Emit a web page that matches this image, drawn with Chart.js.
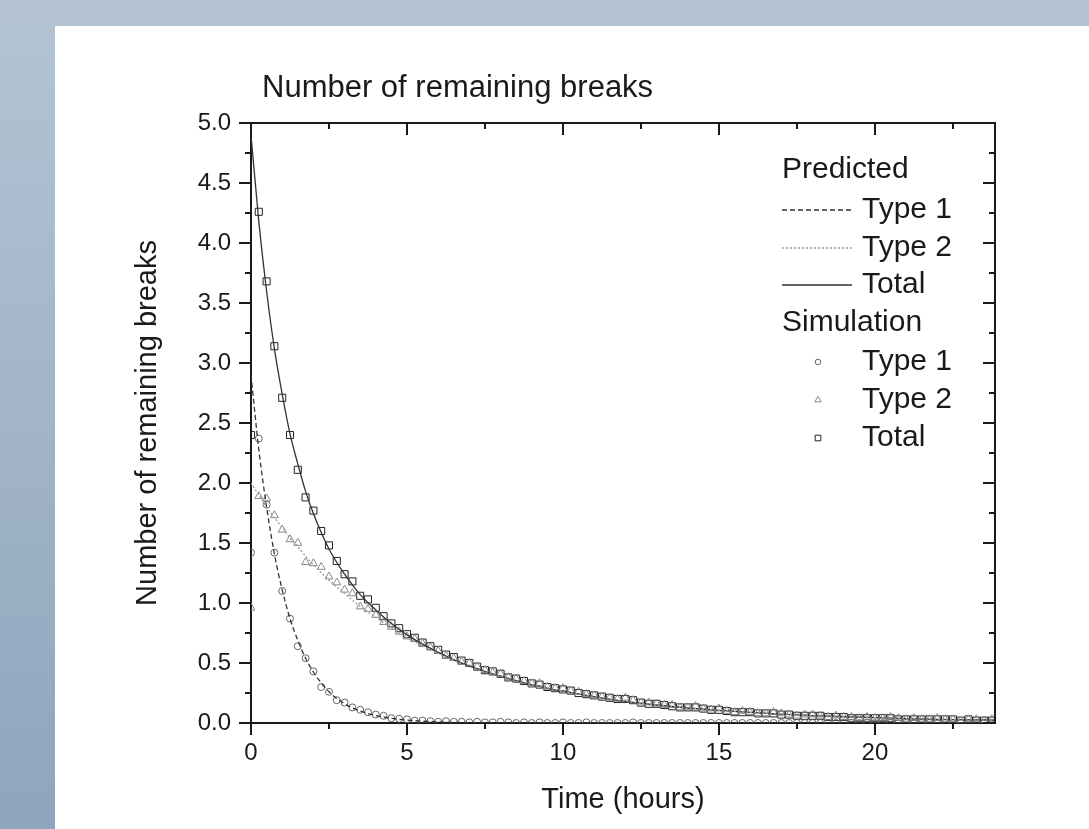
<!DOCTYPE html>
<html>
<head>
<meta charset="utf-8">
<script src="https://cdn.jsdelivr.net/npm/chart.js@4.4.1/dist/chart.umd.min.js"></script>
<style>
  html, body { margin: 0; padding: 0; }
  body {
    width: 1089px; height: 829px; overflow: hidden; position: relative;
    background: linear-gradient(to bottom, #b4c4d4 0%, #8fa5bd 100%);
  }
  #panel { position: absolute; left: 55px; top: 26px; width: 1034px; height: 803px; background: #fff; }
  #chart { display: block; }
</style>
</head>
<body>
<div id="panel"><canvas id="chart" width="1034" height="803"></canvas></div>
<script>
// predicted curves (hours -> remaining breaks)
var predTime = [0,0.25,0.5,0.75,1,1.25,1.5,1.75,2,2.5,3,3.5,4,4.5,5,6,7,8,9,10,11,12,13,14,15,16,17,18,19,20,21,22,23,24];
var predType1 = [2.90,2.28,1.80,1.41,1.11,0.87,0.69,0.54,0.425,0.26,0.16,0.10,0.062,0.039,0.024,0.009,0.0035,0.0013,0.0005,0.0002,0.0001,0,0,0,0,0,0,0,0,0,0,0,0,0];
var predType2 = [2.00,1.90,1.80,1.71,1.63,1.54,1.47,1.39,1.32,1.19,1.08,0.97,0.88,0.79,0.71,0.58,0.47,0.39,0.32,0.265,0.22,0.18,0.15,0.125,0.105,0.088,0.074,0.062,0.052,0.044,0.037,0.031,0.026,0.022];
var predTotal = [4.90,4.18,3.60,3.12,2.74,2.41,2.16,1.93,1.745,1.45,1.24,1.07,0.942,0.829,0.734,0.589,0.4735,0.391,0.3205,0.265,0.22,0.18,0.15,0.125,0.105,0.088,0.074,0.062,0.052,0.044,0.037,0.031,0.026,0.022];

// simulation samples
var simTime = [0,0.25,0.5,0.75,1,1.25,1.5,1.75,2,2.25,2.5,2.75,3,3.25,3.5,3.75,4,4.25,4.5,4.75,5,
  5.25,5.5,5.75,6,6.25,6.5,6.75,7,7.25,7.5,7.75,8,8.25,8.5,8.75,9,9.25,9.5,9.75,10,
  10.25,10.5,10.75,11,11.25,11.5,11.75,12,12.25,12.5,12.75,13,13.25,13.5,13.75,14,14.25,14.5,14.75,15,
  15.25,15.5,15.75,16,16.25,16.5,16.75,17,17.25,17.5,17.75,18,18.25,18.5,18.75,19,19.25,19.5,19.75,20,
  20.25,20.5,20.75,21,21.25,21.5,21.75,22,22.25,22.5,22.75,23,23.25,23.5,23.75];
var simType1 = [1.42,2.37,1.82,1.42,1.10,0.87,0.64,0.54,0.43,0.30,0.26,0.19,0.17,0.13,0.11,0.09,0.07,0.06,0.04,0.035,0.03,
  0.02,0.02,0.015,0.01,0.015,0.01,0.01,0.005,0.01,0.005,0.005,0.01,0.005,0,0.005,0,0.005,0,0,0.005,
  0,0,0.005,0,0,0,0,0,0.005,0,0,0,0,0,0,0,0,0,0,0,
  0,0,0,0,0,0,0,0,0,0,0,0,0,0,0,0,0,0,0,0,
  0,0,0,0,0,0,0,0,0,0,0,0,0,0,0];
var simType2 = [0.96,1.89,1.87,1.73,1.61,1.53,1.50,1.34,1.33,1.30,1.22,1.17,1.11,1.08,0.97,0.95,0.90,0.84,0.80,0.76,0.72,
  0.70,0.66,0.63,0.60,0.56,0.54,0.51,0.50,0.47,0.44,0.42,0.41,0.38,0.37,0.35,0.33,0.33,0.30,0.29,0.29,
  0.27,0.26,0.24,0.23,0.22,0.21,0.20,0.21,0.19,0.17,0.17,0.16,0.15,0.15,0.13,0.13,0.14,0.12,0.11,0.12,
  0.10,0.09,0.10,0.09,0.08,0.08,0.09,0.08,0.07,0.06,0.07,0.07,0.06,0.05,0.06,0.05,0.05,0.04,0.05,0.04,
  0.04,0.05,0.04,0.03,0.04,0.03,0.03,0.04,0.03,0.03,0.02,0.03,0.03,0.02,0.03];
var simTotal = [2.40,4.26,3.68,3.14,2.71,2.40,2.11,1.88,1.77,1.60,1.48,1.35,1.24,1.18,1.06,1.03,0.96,0.89,0.83,0.79,0.74,
  0.71,0.67,0.64,0.61,0.57,0.55,0.52,0.50,0.47,0.44,0.43,0.41,0.38,0.37,0.35,0.33,0.32,0.30,0.29,0.28,
  0.27,0.25,0.24,0.23,0.22,0.21,0.20,0.20,0.19,0.17,0.16,0.16,0.15,0.14,0.13,0.13,0.13,0.12,0.11,0.11,
  0.10,0.09,0.09,0.09,0.08,0.08,0.08,0.07,0.07,0.06,0.06,0.06,0.06,0.05,0.05,0.05,0.04,0.04,0.04,0.04,
  0.04,0.04,0.03,0.03,0.03,0.03,0.03,0.03,0.03,0.03,0.02,0.03,0.02,0.02,0.02];

// axis ticks
var xTickValues = [0,5,10,15,20];
var xMinorTicks = [2.5,7.5,12.5,17.5,22.5];
var yTickValues = [0,0.5,1,1.5,2,2.5,3,3.5,4,4.5,5];
var yMinorTicks = [0.25,0.75,1.25,1.75,2.25,2.75,3.25,3.75,4.25,4.75];

var chartTitle = 'Number of remaining breaks';
var legendHeads = ['Predicted', 'Simulation'];
var legendNames = ['Type 1', 'Type 2', 'Total'];

var FONT = '"Liberation Sans", Arial, sans-serif';
var INK = '#1a1a1a';
Chart.defaults.font.family = FONT;
Chart.defaults.color = INK;

function pairs(xs, ys) {
  return xs.map(function (x, i) { return { x: x, y: ys[i] }; });
}

function lineSet(label, ys, color, dash) {
  return {
    label: label, data: pairs(predTime, ys), borderColor: color, borderWidth: 1.3,
    borderDash: dash, pointRadius: 0, cubicInterpolationMode: 'monotone', fill: false
  };
}

function markSet(label, ys, style, r, color) {
  return {
    label: label, data: pairs(simTime, ys), showLine: false, pointStyle: style,
    pointRadius: r, pointBorderWidth: 1, pointBorderColor: color, borderColor: color,
    pointBackgroundColor: 'rgba(0,0,0,0)', backgroundColor: 'rgba(0,0,0,0)'
  };
}

var lineStyles = [
  { color: '#333', dash: [5, 3] },
  { color: '#999', dash: [2, 2] },
  { color: '#333', dash: [] }
];
var markStyles = [
  { style: 'circle', r: 3.5, color: '#666' },
  { style: 'triangle', r: 4.6, color: '#888' },
  { style: 'rect', r: 5, color: '#222' }
];

// frame, extra ticks, title and legend
var framePlugin = {
  id: 'frame',
  afterDraw: function (chart) {
    var ctx = chart.ctx, a = chart.chartArea;
    var xs = chart.scales.x, ys = chart.scales.y;
    ctx.save();
    ctx.strokeStyle = INK;
    ctx.lineWidth = 2;
    ctx.beginPath();
    ctx.moveTo(a.left - 1, a.top);
    ctx.lineTo(a.right, a.top);
    ctx.lineTo(a.right, a.bottom + 1);
    ctx.stroke();

    ctx.beginPath();
    xTickValues.forEach(function (v) {
      var px = Math.round(xs.getPixelForValue(v));
      ctx.moveTo(px, a.top); ctx.lineTo(px, a.top + 12);
    });
    xMinorTicks.forEach(function (v) {
      var px = Math.round(xs.getPixelForValue(v));
      ctx.moveTo(px, a.top); ctx.lineTo(px, a.top + 6);
      ctx.moveTo(px, a.bottom); ctx.lineTo(px, a.bottom + 6);
    });
    yTickValues.forEach(function (v) {
      var py = Math.round(ys.getPixelForValue(v));
      ctx.moveTo(a.right, py); ctx.lineTo(a.right - 12, py);
    });
    yMinorTicks.forEach(function (v) {
      var py = Math.round(ys.getPixelForValue(v));
      ctx.moveTo(a.right, py); ctx.lineTo(a.right - 6, py);
      ctx.moveTo(a.left, py); ctx.lineTo(a.left - 6, py);
    });
    ctx.stroke();

    // title
    ctx.fillStyle = INK;
    ctx.font = '31px ' + FONT;
    ctx.textBaseline = 'middle';
    ctx.textAlign = 'left';
    ctx.fillText(chartTitle, a.left + 11, 62);

    // legend
    var lx = a.right - 213, rows = [144, 184, 222, 259, 297, 336, 374, 412];
    ctx.font = '30px ' + FONT;
    ctx.fillText(legendHeads[0], lx, rows[0]);
    ctx.fillText(legendHeads[1], lx, rows[4]);
    legendNames.forEach(function (name, i) {
      var ry = rows[1 + i];
      ctx.strokeStyle = lineStyles[i].color;
      ctx.lineWidth = 1.3;
      ctx.setLineDash(lineStyles[i].dash);
      ctx.beginPath();
      ctx.moveTo(lx, ry); ctx.lineTo(lx + 70, ry);
      ctx.stroke();
      ctx.setLineDash([]);
      ctx.fillStyle = INK;
      ctx.fillText(name, lx + 80, ry);

      var my = rows[5 + i], ms = markStyles[i];
      ctx.save();
      ctx.strokeStyle = ms.color;
      ctx.fillStyle = 'rgba(0,0,0,0)';
      ctx.lineWidth = 1;
      Chart.helpers.drawPoint(ctx, { pointStyle: ms.style, radius: ms.r * 0.8, rotation: 0, borderWidth: 1 }, lx + 36, my);
      ctx.restore();
      ctx.fillText(name, lx + 80, my);
    });
    ctx.restore();
  }
};

var datasets = [
  lineSet('Predicted Type 1', predType1, lineStyles[0].color, lineStyles[0].dash),
  lineSet('Predicted Type 2', predType2, lineStyles[1].color, lineStyles[1].dash),
  lineSet('Predicted Total', predTotal, lineStyles[2].color, lineStyles[2].dash),
  markSet('Simulation Type 1', simType1, markStyles[0].style, markStyles[0].r, markStyles[0].color),
  markSet('Simulation Type 2', simType2, markStyles[1].style, markStyles[1].r, markStyles[1].color),
  markSet('Simulation Total', simTotal, markStyles[2].style, markStyles[2].r, markStyles[2].color)
];

new Chart(document.getElementById('chart'), {
  type: 'line',
  data: { datasets: datasets },
  plugins: [framePlugin],
  options: {
    responsive: false,
    animation: false,
    layout: { padding: { top: 97, right: 94, bottom: 0, left: 0 } },
    plugins: { legend: { display: false }, tooltip: { enabled: false } },
    scales: {
      x: {
        type: 'linear', min: 0, max: 23.85,
        afterBuildTicks: function (s) { s.ticks = xTickValues.map(function (v) { return { value: v }; }); },
        afterFit: function (s) { s.height = 106; },
        grid: { display: true, drawOnChartArea: false, drawTicks: true, tickLength: 12, color: INK, lineWidth: 2 },
        border: { display: true, color: INK, width: 2 },
        ticks: { font: { size: 24 }, color: INK, padding: 4, maxRotation: 0,
          callback: function (v) { return String(v); } },
        title: { display: true, text: 'Time (hours)', font: { size: 29 }, color: INK, padding: 12 }
      },
      y: {
        type: 'linear', min: 0, max: 5,
        afterBuildTicks: function (s) { s.ticks = yTickValues.map(function (v) { return { value: v }; }); },
        afterFit: function (s) { s.width = 196; },
        grid: { display: true, drawOnChartArea: false, drawTicks: true, tickLength: 12, color: INK, lineWidth: 2 },
        border: { display: true, color: INK, width: 2 },
        ticks: { font: { size: 24 }, color: INK, padding: 8,
          callback: function (v) { return Number(v).toFixed(1); } },
        title: { display: true, text: 'Number of remaining breaks', font: { size: 29 }, color: INK, padding: 76 }
      }
    }
  }
});
</script>
</body>
</html>
